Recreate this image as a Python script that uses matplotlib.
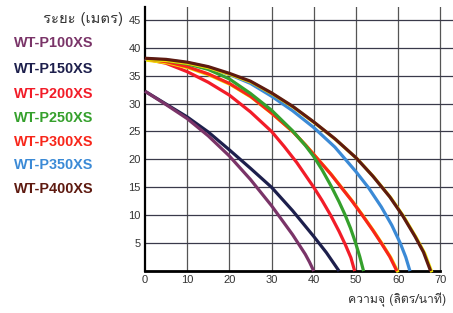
"""
Pump performance curves (head vs flow) for WT-P series.
"""

import matplotlib
matplotlib.use("Agg")
import matplotlib.pyplot as plt
import matplotlib.patheffects as pe
from matplotlib import font_manager
from matplotlib.ft2font import FT2Font

# model names and label colours
MODELS = ["WT-P100XS", "WT-P150XS", "WT-P200XS", "WT-P250XS",
          "WT-P300XS", "WT-P350XS", "WT-P400XS"]
COLORS = ["#7a3468", "#1d1f4c", "#f21c28", "#35a02c",
          "#f8261a", "#3b8ad6", "#5e1a10"]

# flow (l/min) and head (m)
P100_Q = [0, 5, 10, 15, 20, 25, 30, 35, 38, 39, 40]
P100_H = [32.2, 29.8, 27.3, 24.2, 20.6, 16.4, 11.7, 6.5, 3.0, 1.6, 0]

P150_Q = [0, 5, 10, 15, 20, 25, 30, 35, 40, 43, 46]
P150_H = [32.2, 29.9, 27.6, 24.9, 21.7, 18.4, 15.0, 10.8, 6.2, 3.3, 0]

P200_Q = [0, 5, 10, 15, 20, 25, 30, 33, 36, 40, 42, 44, 46, 47.5, 48.8, 49.7]
P200_H = [38.0, 37.2, 35.7, 33.8, 31.5, 28.5, 25.0, 22.3, 19.4, 15.0, 12.6, 10.0, 7.1, 4.7, 2.4, 0]

P250_Q = [0, 5, 10, 15, 20, 25, 30, 35, 38, 40, 42, 44.2, 46, 47.4, 48.7, 49.8, 50.9, 51.8]
P250_H = [38.0, 37.7, 37.1, 36.1, 34.4, 31.8, 28.8, 25.1, 22.5, 20.5, 18.1, 15.1, 12.4, 10.1,
          7.7, 5.3, 2.6, 0]

P300_Q = [0, 5, 10, 15, 20, 25, 30, 35, 38, 41, 44, 46.5, 49, 51.5, 54, 56, 58, 59.7]
P300_H = [38.0, 37.5, 36.6, 35.3, 33.6, 31.3, 28.3, 25.0, 22.6, 20.0, 17.4, 15.0, 12.6, 10.0,
          7.3, 5.0, 2.6, 0]

P350_Q = [0, 5, 10, 15, 20, 25, 30, 35, 40, 45, 50, 53, 56, 58.5, 60.5, 61.8, 62.8]
P350_H = [38.0, 37.8, 37.3, 36.5, 35.2, 33.6, 31.3, 28.7, 25.7, 22.2, 17.8, 14.9, 11.5, 8.2,
          5.0, 2.5, 0]

P400_Q = [0, 5, 10, 15, 20, 25, 30, 35, 40, 45, 50, 54, 58, 61, 64, 66, 67.7]
P400_H = [38.1, 37.9, 37.4, 36.6, 35.4, 34.0, 31.9, 29.5, 26.7, 23.7, 20.3, 17.0, 13.3, 10.0,
          6.2, 3.4, 0]

CURVES = [(P100_Q, P100_H), (P150_Q, P150_H), (P200_Q, P200_H), (P250_Q, P250_H),
          (P300_Q, P300_H), (P350_Q, P350_H), (P400_Q, P400_H)]
DRAW_ORDER = [1, 0, 2, 4, 3, 5, 6]

X_TICKS = [0, 10, 20, 30, 40, 50, 60, 70]
Y_TICKS = [5, 10, 15, 20, 25, 30, 35, 40, 45]

Y_LABEL = "ระยะ (เมตร)"
X_LABEL = "ความจุ (ลิตร/นาที)"


def thai_family():
    # pick the first installed font that actually has Thai glyphs
    for f in font_manager.fontManager.ttflist:
        try:
            cmap = FT2Font(f.fname).get_charmap()
        except Exception:
            continue
        if ord("ค") in cmap and ord("ม") in cmap:
            return f.name
    return "DejaVu Sans"


def main():
    thai = thai_family()
    fig = plt.figure(figsize=(4.53, 3.13), dpi=100)
    ax = fig.add_axes([0.320, 0.134, 0.680, 0.844])

    ax.set_xlim(0, 73)
    ax.set_ylim(0, 47.3)

    for v in X_TICKS[1:]:
        ax.axvline(v, color="#555555", lw=0.9, zorder=1)
    for h in Y_TICKS:
        ax.axhline(h, color="#3a3a4a", lw=0.9, zorder=1)

    shadow = [pe.SimpleLineShadow(offset=(0.9, -0.9), shadow_color="#f2e200", alpha=1.0),
              pe.Normal()]
    for i in DRAW_ORDER:
        q, h = CURVES[i]
        effects = shadow if i in (4, 6) else None
        ax.plot(q, h, color=COLORS[i], lw=2.3, solid_capstyle="butt",
                solid_joinstyle="round", zorder=3, path_effects=effects, clip_on=False)

    ax.set_xticks(X_TICKS)
    ax.set_yticks(Y_TICKS)
    ax.tick_params(length=0, labelsize=8, colors="#333333", pad=3)
    for lab in ax.get_xticklabels() + ax.get_yticklabels():
        lab.set_fontfamily("Liberation Sans")

    for side in ("top", "right"):
        ax.spines[side].set_visible(False)
    ax.spines["left"].set_linewidth(1.6)
    ax.spines["bottom"].set_linewidth(2.0)
    ax.spines["bottom"].set_bounds(0, 70)
    ax.spines["left"].set_color("black")
    ax.spines["bottom"].set_color("black")

    # model legend as coloured text on the left
    ys = [43, 69, 94, 118, 142, 165, 189]
    for name, col, y in zip(MODELS, COLORS, ys):
        fig.text(14 / 453, 1 - y / 313, name, color=col, fontsize=10.4,
                 fontweight="bold", family="Liberation Sans", va="center", ha="left")

    fig.text(123 / 453, 1 - 19 / 313, Y_LABEL, fontsize=10.6, color="#333333",
             family=[thai, "DejaVu Sans"], ha="right", va="center")
    fig.text(446 / 453, 1 - 300 / 313, X_LABEL, fontsize=8.8, color="#333333",
             family=[thai, "DejaVu Sans"], ha="right", va="center")

    fig.savefig("out.png", dpi=100)


if __name__ == "__main__":
    main()
